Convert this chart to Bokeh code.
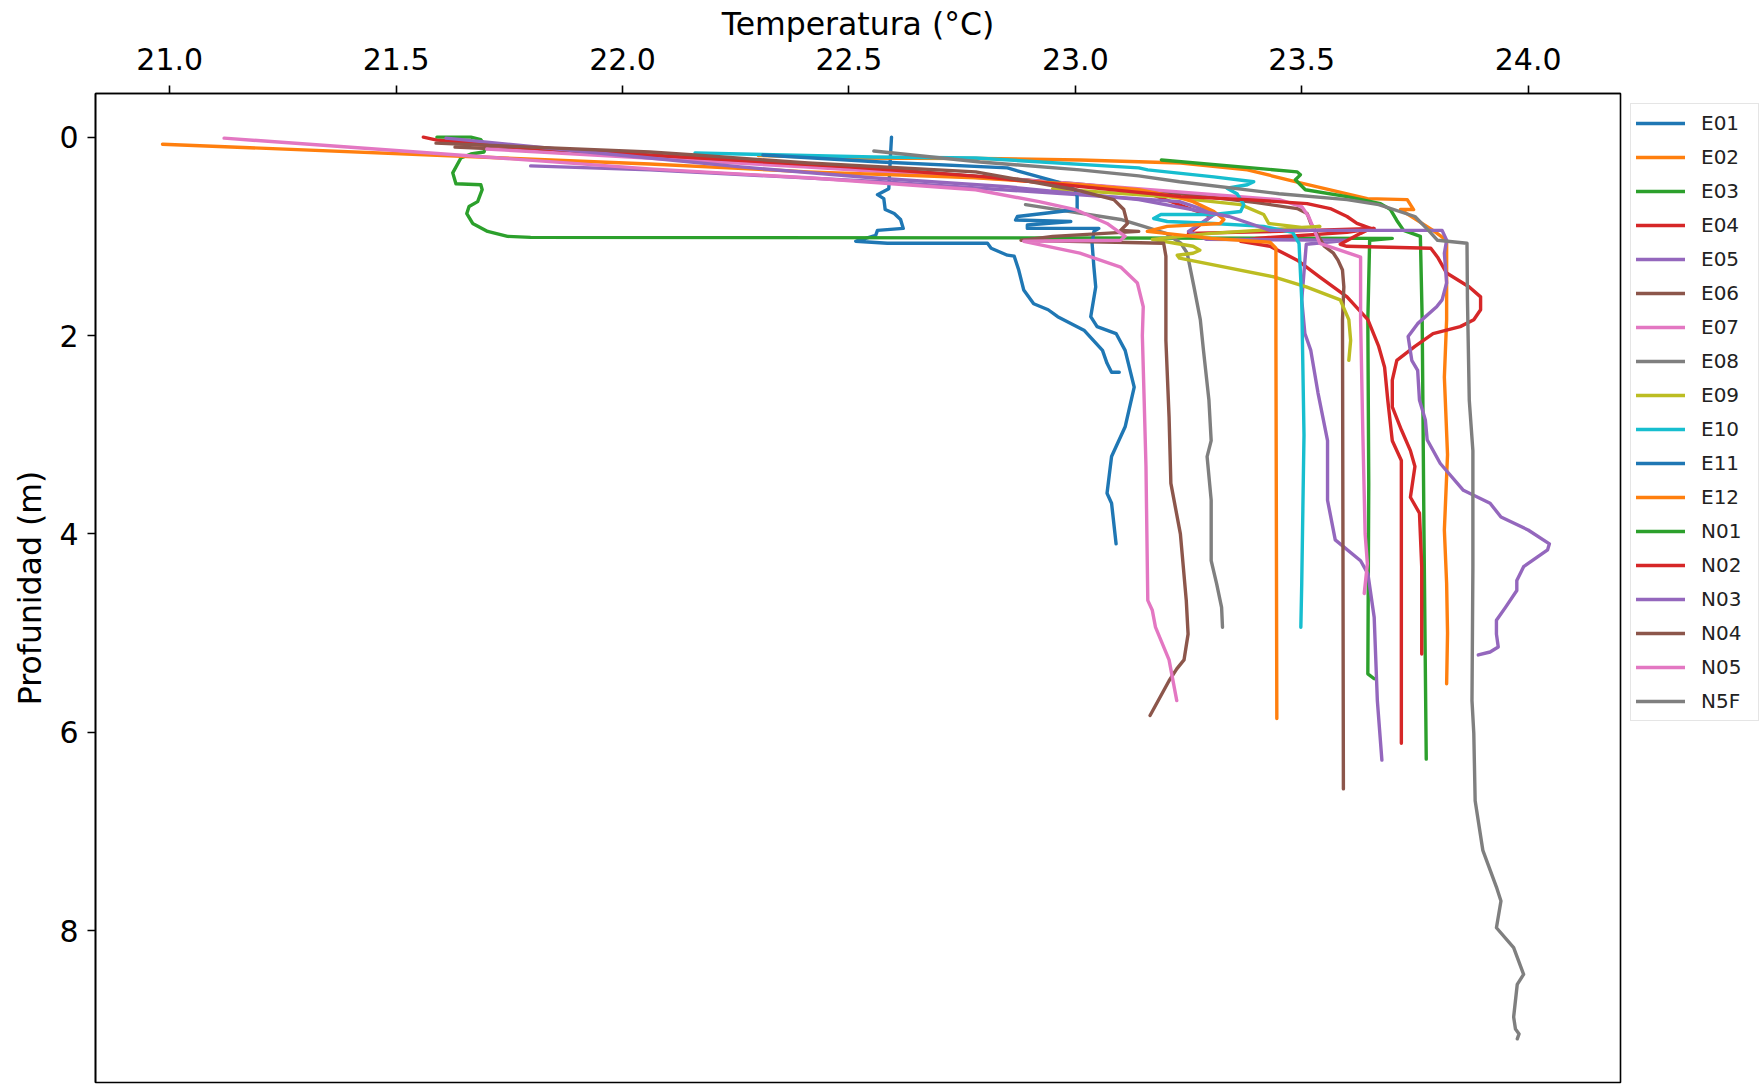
from bokeh.plotting import figure
from bokeh.models import Range1d, FixedTicker, PrintfTickFormatter, Legend, LegendItem
from bokeh.embed import file_html
from bokeh.resources import INLINE

# Temperature (°C) and depth (m) profiles per station
E01_T = [22.594, 22.592, 22.588, 22.563, 22.577, 22.58, 22.60, 22.614, 22.62, 22.563, 22.559, 22.515, 22.585, 22.806, 22.814, 22.85, 22.865, 22.875, 22.886, 22.908, 22.94, 22.961, 23.02, 23.06, 23.07, 23.08, 23.097]
E01_D = [0.00, 0.16, 0.52, 0.58, 0.62, 0.73, 0.77, 0.83, 0.92, 0.94, 0.99, 1.05, 1.07, 1.07, 1.12, 1.19, 1.20, 1.34, 1.54, 1.68, 1.74, 1.81, 1.95, 2.15, 2.28, 2.37, 2.37]

E02_T = [22.30, 22.48, 22.79, 23.01, 23.233, 23.38, 23.497, 23.645, 23.733, 23.747, 23.718, 23.79, 23.82, 23.82, 23.815, 23.822, 23.815, 23.82, 23.822, 23.82]
E02_D = [0.185, 0.21, 0.215, 0.23, 0.26, 0.33, 0.46, 0.62, 0.63, 0.73, 0.73, 0.94, 1.04, 1.84, 2.42, 3.2, 3.96, 4.5, 5.0, 5.51]

E03_T = [21.59, 21.665, 21.687, 21.698, 21.694, 21.665, 21.643, 21.625, 21.632, 21.687, 21.69, 21.68, 21.661, 21.656, 21.669, 21.702, 21.746, 21.797, 23.70, 23.65, 23.646, 23.648, 23.646, 23.66]
E03_D = [0.00, 0.00, 0.025, 0.095, 0.15, 0.17, 0.21, 0.36, 0.47, 0.48, 0.53, 0.65, 0.70, 0.77, 0.87, 0.95, 1.00, 1.01, 1.02, 1.04, 1.84, 3.5, 5.41, 5.46]

E04_T = [21.56, 21.59, 22.06, 22.50, 22.85, 23.14, 23.30, 23.25, 23.45, 23.66, 23.60, 23.40, 23.365, 23.43, 23.49, 23.54, 23.60, 23.646, 23.67, 23.683, 23.69, 23.70, 23.72, 23.72, 23.72]
E04_D = [0.00, 0.03, 0.19, 0.31, 0.42, 0.53, 0.80, 0.97, 0.95, 0.92, 0.96, 1.02, 1.05, 1.10, 1.24, 1.41, 1.61, 1.84, 2.11, 2.32, 2.65, 3.06, 3.26, 3.53, 6.11]

E05_T = [21.797, 22.06, 22.57, 23.01, 23.23, 23.31, 23.25, 23.29, 23.60, 23.51, 23.50, 23.507, 23.52, 23.536, 23.557, 23.557, 23.574, 23.63, 23.646, 23.66, 23.667, 23.677]
E05_D = [0.29, 0.33, 0.45, 0.58, 0.65, 0.77, 0.95, 1.03, 1.04, 1.08, 1.64, 1.98, 2.15, 2.58, 3.06, 3.66, 4.06, 4.27, 4.40, 4.84, 5.68, 6.28]

E06_T = [21.63, 22.06, 22.60, 23.00, 23.25, 23.40, 23.49, 23.512, 23.52, 23.55, 23.57, 23.58, 23.59, 23.593, 23.59, 23.591, 23.592]
E06_D = [0.10, 0.19, 0.33, 0.47, 0.58, 0.66, 0.72, 0.77, 0.87, 1.10, 1.17, 1.24, 1.34, 1.51, 1.84, 4.0, 6.57]

E07_T = [21.70, 22.40, 22.94, 23.45, 23.50, 23.515, 23.54, 23.63, 23.63, 23.635, 23.64, 23.645, 23.638]
E07_D = [0.12, 0.30, 0.45, 0.63, 0.70, 0.80, 1.07, 1.21, 1.84, 3.0, 4.0, 4.3, 4.60]

E08_T = [22.89, 23.10, 23.151, 23.20, 23.233, 23.247, 23.262, 23.276, 23.283, 23.295, 23.30, 23.291, 23.30, 23.30, 23.312, 23.323, 23.325]
E08_D = [0.68, 0.83, 0.90, 0.97, 1.07, 1.17, 1.51, 1.84, 2.15, 2.65, 3.06, 3.22, 3.66, 4.27, 4.50, 4.74, 4.94]

E09_T = [22.95, 23.20, 23.365, 23.416, 23.427, 23.50, 23.54, 23.30, 23.17, 23.22, 23.26, 23.275, 23.26, 23.225, 23.23, 23.44, 23.51, 23.585, 23.604, 23.608, 23.604]
E09_D = [0.52, 0.60, 0.68, 0.78, 0.87, 0.91, 0.90, 0.97, 1.03, 1.07, 1.10, 1.14, 1.17, 1.19, 1.22, 1.41, 1.51, 1.64, 1.84, 2.05, 2.25]

E10_T = [22.16, 22.555, 22.78, 23.14, 23.16, 23.306, 23.394, 23.38, 23.335, 23.357, 23.372, 23.365, 23.306, 23.189, 23.173, 23.203, 23.306, 23.416, 23.48, 23.494, 23.50, 23.505, 23.50, 23.498]
E10_D = [0.16, 0.20, 0.21, 0.31, 0.33, 0.40, 0.45, 0.48, 0.515, 0.57, 0.68, 0.75, 0.78, 0.78, 0.82, 0.85, 0.87, 0.90, 0.96, 1.07, 1.64, 3.0, 4.5, 4.94]

E11_T = [22.31, 22.57, 22.85, 22.88, 22.92, 22.96, 23.00, 23.004, 23.004, 22.872, 22.868, 22.99, 22.894, 22.894, 23.052, 23.041, 23.037, 23.041, 23.045, 23.034, 23.048, 23.09, 23.11, 23.13, 23.11, 23.08, 23.07, 23.08, 23.09]
E11_D = [0.18, 0.25, 0.31, 0.35, 0.40, 0.45, 0.53, 0.60, 0.73, 0.80, 0.835, 0.85, 0.885, 0.92, 0.92, 0.95, 1.07, 1.31, 1.51, 1.81, 1.91, 1.98, 2.15, 2.52, 2.92, 3.22, 3.59, 3.69, 4.10]

E12_T = [20.984, 22.06, 22.41, 22.78, 23.01, 23.14, 23.23, 23.26, 23.306, 23.328, 23.32, 23.203, 23.159, 23.30, 23.43, 23.443, 23.443, 23.445]
E12_D = [0.071, 0.27, 0.35, 0.41, 0.48, 0.53, 0.61, 0.65, 0.75, 0.83, 0.87, 0.90, 0.95, 1.02, 1.06, 1.12, 2.05, 5.86]

N01_T = [23.19, 23.49, 23.497, 23.486, 23.508, 23.60, 23.674, 23.696, 23.71, 23.725, 23.762, 23.766, 23.77, 23.775]
N01_D = [0.23, 0.35, 0.38, 0.43, 0.53, 0.60, 0.67, 0.73, 0.84, 0.94, 1.00, 1.84, 4.0, 6.27]

N02_T = [21.62, 22.06, 22.50, 22.80, 23.233, 23.38, 23.512, 23.563, 23.60, 23.622, 23.652, 23.63, 23.585, 23.60, 23.785, 23.80, 23.82, 23.87, 23.895, 23.895, 23.88, 23.85, 23.79, 23.75, 23.71, 23.70, 23.70, 23.72, 23.74, 23.75, 23.74, 23.76, 23.765, 23.765]
N02_D = [0.06, 0.18, 0.30, 0.40, 0.60, 0.63, 0.67, 0.72, 0.80, 0.87, 0.92, 0.97, 1.08, 1.10, 1.12, 1.21, 1.37, 1.51, 1.61, 1.74, 1.84, 1.91, 1.98, 2.11, 2.25, 2.45, 2.72, 2.95, 3.16, 3.32, 3.63, 3.79, 4.33, 5.21]

N03_T = [21.61, 22.06, 22.26, 22.55, 22.85, 23.14, 23.34, 23.43, 23.81, 23.82, 23.815, 23.82, 23.81, 23.798, 23.756, 23.735, 23.743, 23.756, 23.76, 23.773, 23.777, 23.806, 23.857, 23.916, 23.94, 24.00, 24.047, 24.043, 23.99, 23.975, 23.975, 23.95, 23.93, 23.93, 23.934, 23.916, 23.89]
N03_D = [0.01, 0.21, 0.30, 0.41, 0.50, 0.63, 0.80, 0.94, 0.94, 1.04, 1.17, 1.47, 1.64, 1.71, 1.88, 2.01, 2.25, 2.35, 2.65, 2.85, 3.05, 3.29, 3.56, 3.69, 3.83, 3.96, 4.10, 4.16, 4.33, 4.47, 4.57, 4.74, 4.87, 5.01, 5.14, 5.19, 5.22]

N04_T = [21.588, 22.06, 22.16, 22.41, 22.78, 23.00, 23.085, 23.107, 23.115, 23.10, 23.14, 22.95, 22.88, 23.195, 23.20, 23.20, 23.207, 23.211, 23.232, 23.245, 23.249, 23.24, 23.224, 23.207, 23.165]
N04_D = [0.06, 0.15, 0.18, 0.26, 0.35, 0.53, 0.63, 0.73, 0.87, 0.94, 0.95, 1.00, 1.04, 1.07, 1.20, 2.05, 2.82, 3.49, 4.00, 4.67, 5.01, 5.27, 5.36, 5.48, 5.83]

N05_T = [21.12, 22.06, 22.41, 22.78, 22.92, 23.00, 23.07, 23.11, 23.10, 22.886, 23.01, 23.10, 23.137, 23.15, 23.148, 23.152, 23.156, 23.16, 23.17, 23.177, 23.207, 23.224]
N05_D = [0.01, 0.32, 0.41, 0.53, 0.65, 0.73, 0.87, 1.00, 1.04, 1.05, 1.17, 1.31, 1.47, 1.71, 2.00, 2.65, 3.32, 4.67, 4.77, 4.94, 5.27, 5.68]

N5F_T = [22.555, 22.79, 23.01, 23.14, 23.23, 23.45, 23.60, 23.67, 23.75, 23.78, 23.80, 23.865, 23.866, 23.87, 23.878, 23.878, 23.876, 23.88, 23.883, 23.90, 23.93, 23.94, 23.93, 23.968, 23.99, 23.976, 23.968, 23.972, 23.98, 23.976]
N5F_D = [0.14, 0.25, 0.33, 0.39, 0.45, 0.57, 0.63, 0.68, 0.80, 0.94, 1.04, 1.07, 1.64, 2.65, 3.16, 4.33, 5.68, 6.01, 6.69, 7.19, 7.56, 7.70, 7.97, 8.17, 8.44, 8.54, 8.87, 8.99, 9.04, 9.09]

stations = ["E01", "E02", "E03", "E04", "E05", "E06", "E07", "E08", "E09", "E10",
            "E11", "E12", "N01", "N02", "N03", "N04", "N05", "N5F"]
profiles = {
    "E01": (E01_T, E01_D), "E02": (E02_T, E02_D), "E03": (E03_T, E03_D),
    "E04": (E04_T, E04_D), "E05": (E05_T, E05_D), "E06": (E06_T, E06_D),
    "E07": (E07_T, E07_D), "E08": (E08_T, E08_D), "E09": (E09_T, E09_D),
    "E10": (E10_T, E10_D), "E11": (E11_T, E11_D), "E12": (E12_T, E12_D),
    "N01": (N01_T, N01_D), "N02": (N02_T, N02_D), "N03": (N03_T, N03_D),
    "N04": (N04_T, N04_D), "N05": (N05_T, N05_D), "N5F": (N5F_T, N5F_D),
}
palette = ["#1f77b4", "#ff7f0e", "#2ca02c", "#d62728", "#9467bd",
           "#8c564b", "#e377c2", "#7f7f7f", "#bcbd22", "#17becf"]

x_ticks = [21.0, 21.5, 22.0, 22.5, 23.0, 23.5, 24.0]
y_ticks = [0, 2, 4, 6, 8]

FONT = "DejaVu Sans"

p = figure(frame_width=1525, frame_height=989,
           x_range=Range1d(20.836, 24.204), y_range=Range1d(9.53, -0.44),
           x_axis_location="above", output_backend="svg", toolbar_location=None,
           min_border_left=95, min_border_top=93, min_border_bottom=6, min_border_right=4,
           background_fill_color="white", border_fill_color="white")

p.grid.visible = False
p.outline_line_color = "black"
p.outline_line_width = 1.6
p.outline_line_alpha = 1.0

for ax in (p.xaxis[0], p.yaxis[0]):
    ax.axis_line_width = 1.6
    ax.major_tick_line_width = 1.6
    ax.major_tick_out = 8
    ax.major_tick_in = 0
    ax.minor_tick_line_color = None
    ax.major_label_text_font = FONT
    ax.major_label_text_font_size = "30px"
    ax.major_label_text_color = "black"
    ax.axis_label_text_font = FONT
    ax.axis_label_text_font_size = "31.5px"
    ax.axis_label_text_font_style = "normal"
    ax.axis_label_text_color = "black"

p.xaxis.ticker = FixedTicker(ticks=x_ticks)
p.xaxis.formatter = PrintfTickFormatter(format="%.1f")
p.xaxis.axis_label = "Temperatura (°C)"
p.xaxis.major_label_standoff = 16
p.xaxis.axis_label_standoff = 3

p.yaxis.ticker = FixedTicker(ticks=y_ticks)
p.yaxis.formatter = PrintfTickFormatter(format="%d")
p.yaxis.axis_label = "Profunidad (m)"
p.yaxis.major_label_standoff = 9
p.yaxis.axis_label_standoff = 8

items = []
for i, name in enumerate(stations):
    t, d = profiles[name]
    r = p.line(t, d, line_color=palette[i % 10], line_width=3.4,
               line_join="round", line_cap="round")
    items.append(LegendItem(label=name, renderers=[r]))

legend = Legend(items=items, location="top_left", orientation="vertical",
                label_text_font=FONT, label_text_font_size="20px",
                label_text_color="#222222",
                glyph_width=49, glyph_height=28, label_height=28, label_width=52,
                label_standoff=16, spacing=6, padding=5, margin=10,
                border_line_color="#cccccc", border_line_width=1.5,
                background_fill_color="white", background_fill_alpha=1.0)
p.add_layout(legend, "right")

open("out.html", "w").write(file_html(p, INLINE))
